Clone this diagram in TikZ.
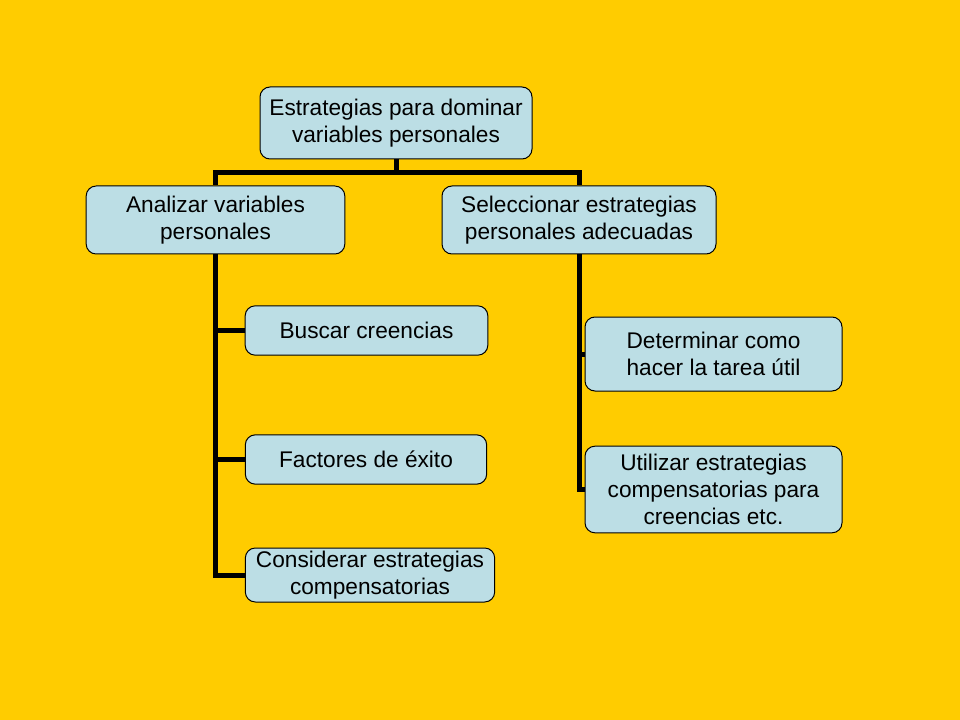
\documentclass[tikz,border=0pt]{standalone}
\usepackage{fontspec}
\setmainfont{Liberation Sans}
\definecolor{slide}{RGB}{255,204,0}
\definecolor{boxblue}{RGB}{188,222,229}
\begin{document}
\begin{tikzpicture}[x=0.75pt,y=-0.75pt,
  box/.style={draw=black,line width=0.75pt,fill=boxblue,rounded corners=7.5pt,
    align=center,inner sep=0pt,font=\fontsize{17}{20.25}\selectfont},
  link/.style={line width=3.75pt}]
\fill[slide] (0,0) rectangle (960,720);
\useasboundingbox (0,0) rectangle (960,720);

\node[box,minimum width=204pt,minimum height=54pt] (root) at (396,123) {Estrategias para dominar\\ variables personales}; % top guy.

\node[box,minimum width=194pt,minimum height=51pt] (anal) at (215.5,220) {Analizar variables\\ personales};
\node[box,minimum width=205.5pt,minimum height=51pt] (sele) at (579,220) {Seleccionar estrategias\\ personales adecuadas};

% left column.
\node[box,minimum width=182pt,minimum height=37pt] (busc) at (366.5,330.5) {Buscar creencias};
\node[box,minimum width=181pt,minimum height=37pt] (fact) at (366,459.5) {Factores de \'exito};
\node[box,minimum width=187pt,minimum height=40.5pt] (cons) at (370,575) {Considerar estrategias\\ compensatorias};

% right column.
\node[box,minimum width=192.75pt,minimum height=55.5pt] (dete) at (713.5,354) {Determinar como\\ hacer la tarea \'util};
\node[box,minimum width=192.75pt,minimum height=65pt] (util) at (713.5,489.5) {Utilizar estrategias\\ compensatorias para\\ creencias etc.};

\draw[link] (root.south) -- ++(0,13) -| (anal.north);
\draw[link] (root.south) -- ++(0,13) -| (sele.north);

\draw[link] (anal.south) |- (busc.west);
\draw[link] (anal.south) |- (fact.west);
\draw[link] (anal.south) |- (cons.west);

\draw[link] (sele.south) |- (dete.west);
\draw[link] (sele.south) |- (util.west);

\end{tikzpicture}
\end{document}
